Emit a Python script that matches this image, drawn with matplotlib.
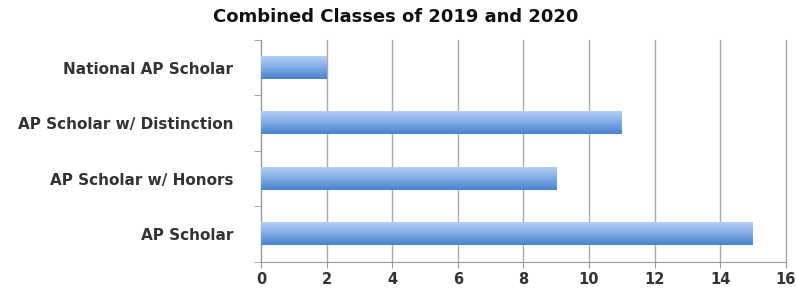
import numpy as np
import matplotlib.pyplot as plt
from matplotlib.colors import LinearSegmentedColormap

categories = ['AP Scholar', 'AP Scholar w/ Honors', 'AP Scholar w/ Distinction', 'National AP Scholar']
counts = [15, 9, 11, 2]
xticks = [0, 2, 4, 6, 8, 10, 12, 14, 16]

fig = plt.figure(figsize=(7.96, 2.9), dpi=100)
ax = fig.add_axes([0.328, 0.097, 0.659, 0.765])

# gradient fill, light at top to darker blue at bottom
cmap = LinearSegmentedColormap.from_list('bar', ['#4a82cc', '#7eaae6', '#b3d0f5'])
grad = np.linspace(0, 1, 64).reshape(-1, 1)
h = 0.4
y = np.arange(len(categories))
bars = ax.barh(y, counts, height=h, color='none', edgecolor='none')
for b in bars:
    x0, y0 = b.get_x(), b.get_y()
    ax.imshow(grad, extent=[x0, x0 + b.get_width(), y0, y0 + b.get_height()],
              cmap=cmap, aspect='auto', origin='lower', zorder=3)

ax.set_xlim(0, 16)
ax.set_ylim(-0.5, len(categories) - 0.5)
ax.set_xticks(xticks)
ax.set_yticks(y)
ax.set_yticklabels(categories)
ax.set_yticks(np.arange(-0.5, len(categories), 1), minor=True)
ax.tick_params(axis='y', which='major', length=0, pad=20, labelsize=11, labelcolor='#333333')
ax.tick_params(axis='y', which='minor', length=5, color='#999999', direction='out')
ax.tick_params(axis='x', length=4, color='#999999', labelsize=10.5, labelcolor='#333333', pad=3)
for lab in ax.get_yticklabels() + ax.get_xticklabels():
    lab.set_fontweight('bold')

ax.grid(axis='x', color='#aaaaaa', linewidth=1, zorder=0)
for gl in ax.get_xgridlines():
    gl.set_clip_on(False)
ax.set_axisbelow(True)
for s in ['top', 'right']:
    ax.spines[s].set_visible(False)
ax.spines['left'].set_color('#999999')
ax.spines['bottom'].set_color('#999999')

fig.text(0.497, 0.94, 'Combined Classes of 2019 and 2020', ha='center', va='center',
         fontsize=13, fontweight='bold', color='#111111')

fig.savefig('out.png', dpi=100)
